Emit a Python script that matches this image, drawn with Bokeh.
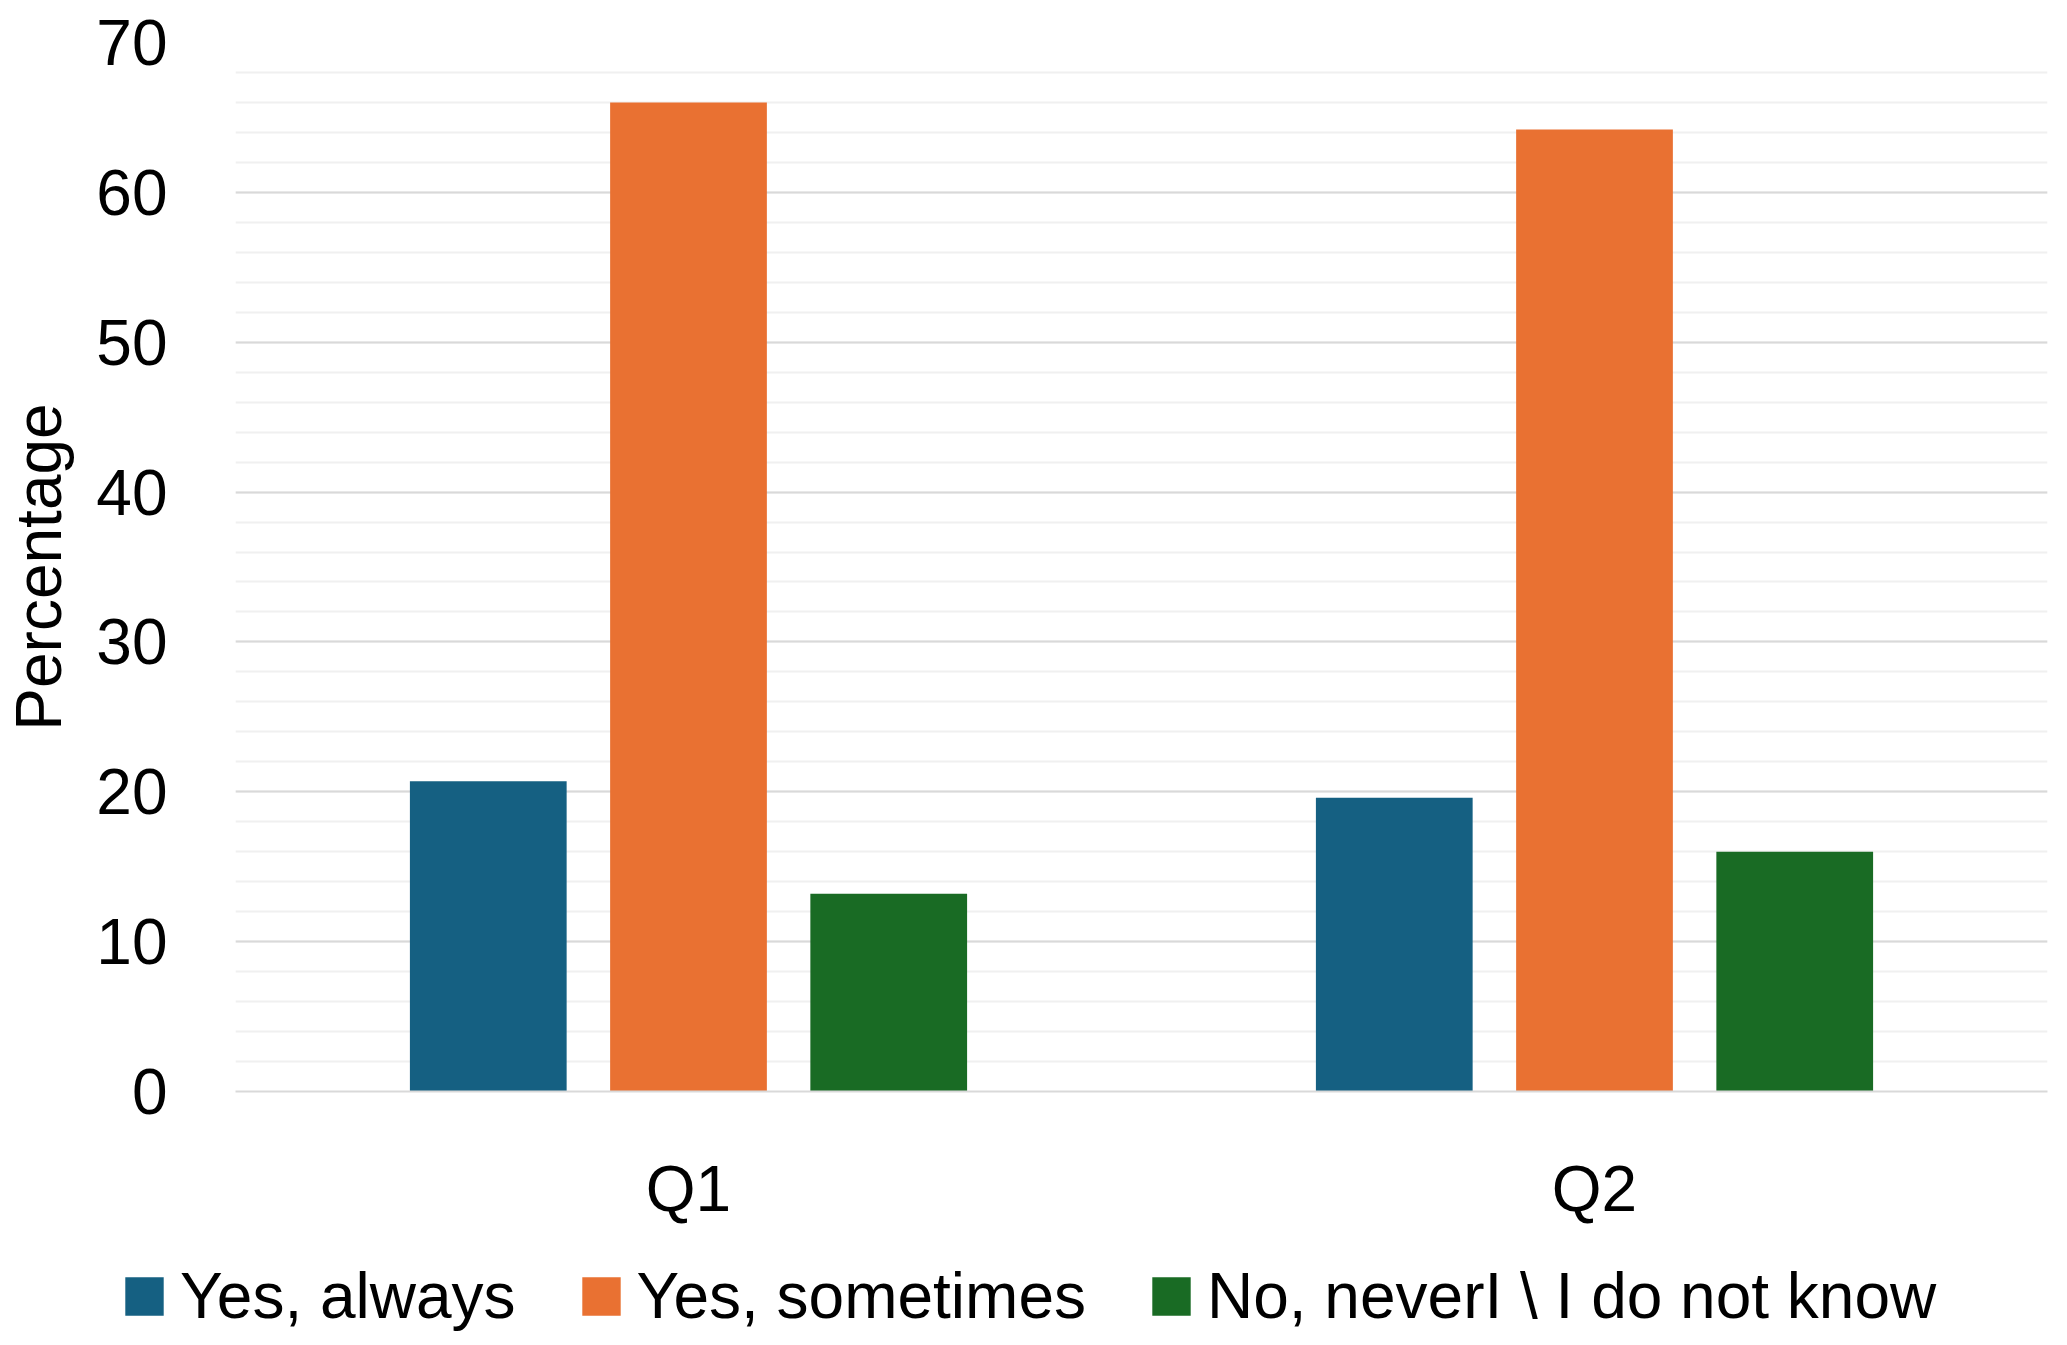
from bokeh.plotting import figure
from bokeh.models import (FactorRange, Range1d, SingleIntervalTicker, Legend, LegendItem,
                          ColumnDataSource)
from bokeh.transform import dodge
from bokeh.embed import file_html
from bokeh.resources import INLINE

categories = ["Q1", "Q2"]
series_names = ["Yes, always", "Yes, sometimes", "No, neverI \\ I do not know"]
yes_always = [20.7, 19.6]
yes_sometimes = [66.0, 64.2]
no_never = [13.2, 16.0]
colors = ["#156082", "#E97132", "#196B24"]

FONT = "Liberation Sans"
FS = "64px"

src = ColumnDataSource(data=dict(cat=categories, a=yes_always, b=yes_sometimes, c=no_never))
xr = FactorRange(*categories)
offsets = [-0.221, 0.0, 0.221]
cols = ["a", "b", "c"]

p = figure(width=2067, height=1250, x_range=xr, y_range=Range1d(0, 70),
           output_backend="svg", toolbar_location=None,
           min_border_left=235, min_border_right=20, min_border_top=42, min_border_bottom=159)
p.outline_line_color = None
p.background_fill_color = "white"
p.border_fill_color = "white"

for col, off, c in zip(cols, offsets, colors):
    p.vbar(x=dodge("cat", off, range=xr), top=col, width=0.173, source=src,
           fill_color=c, line_color=None)

p.yaxis.ticker = SingleIntervalTicker(interval=10, num_minor_ticks=5)
p.ygrid.ticker = p.yaxis.ticker
p.ygrid.grid_line_color = "#d9d9d9"
p.ygrid.grid_line_width = 2
p.ygrid.minor_grid_line_color = "#f0f0f0"
p.ygrid.minor_grid_line_width = 2
p.xgrid.grid_line_color = None

p.yaxis.axis_line_color = None
p.yaxis.major_tick_line_color = None
p.yaxis.minor_tick_line_color = None
p.yaxis.major_label_text_font = FONT
p.yaxis.major_label_text_font_size = FS
p.yaxis.major_label_text_color = "black"
p.yaxis.major_label_standoff = 62
p.yaxis.axis_label = "Percentage"
p.yaxis.axis_label_text_font = FONT
p.yaxis.axis_label_text_font_size = FS
p.yaxis.axis_label_text_font_style = "normal"
p.yaxis.axis_label_text_color = "black"
p.yaxis.axis_label_standoff = 18

p.xaxis.axis_line_color = "#d9d9d9"
p.xaxis.axis_line_width = 2
p.xaxis.major_tick_line_color = None
p.xaxis.minor_tick_line_color = None
p.xaxis.major_label_text_font = FONT
p.xaxis.major_label_text_font_size = FS
p.xaxis.major_label_text_color = "black"
p.xaxis.major_label_standoff = 55

# legend strip below the chart (separate root so its frame spans the full width)
lg = figure(width=2067, height=95, x_range=xr, y_range=Range1d(200, 201),
            output_backend="svg", toolbar_location=None, x_axis_type=None, y_axis_type=None,
            min_border=0, min_border_left=0, min_border_right=0, min_border_top=0,
            min_border_bottom=0)
lg.outline_line_color = None
lg.grid.visible = False
lg.background_fill_color = "white"
lg.border_fill_color = "white"
proxies = [lg.vbar(x=dodge("cat", off, range=xr), top=col, width=0.173, source=src,
                   fill_color=c, line_color=None)
           for col, off, c in zip(cols, offsets, colors)]
items = [LegendItem(label=n, renderers=[r]) for n, r in zip(series_names, proxies)]
legend = Legend(items=items, orientation="horizontal", location=(120, 12),
                label_text_font=FONT, label_text_font_size=FS, label_text_color="black",
                glyph_width=48, glyph_height=48, label_standoff=12, spacing=61,
                border_line_color=None, background_fill_alpha=0, margin=0, padding=0)
lg.add_layout(legend, "center")

open("out.html", "w").write(file_html([p, lg], INLINE))
